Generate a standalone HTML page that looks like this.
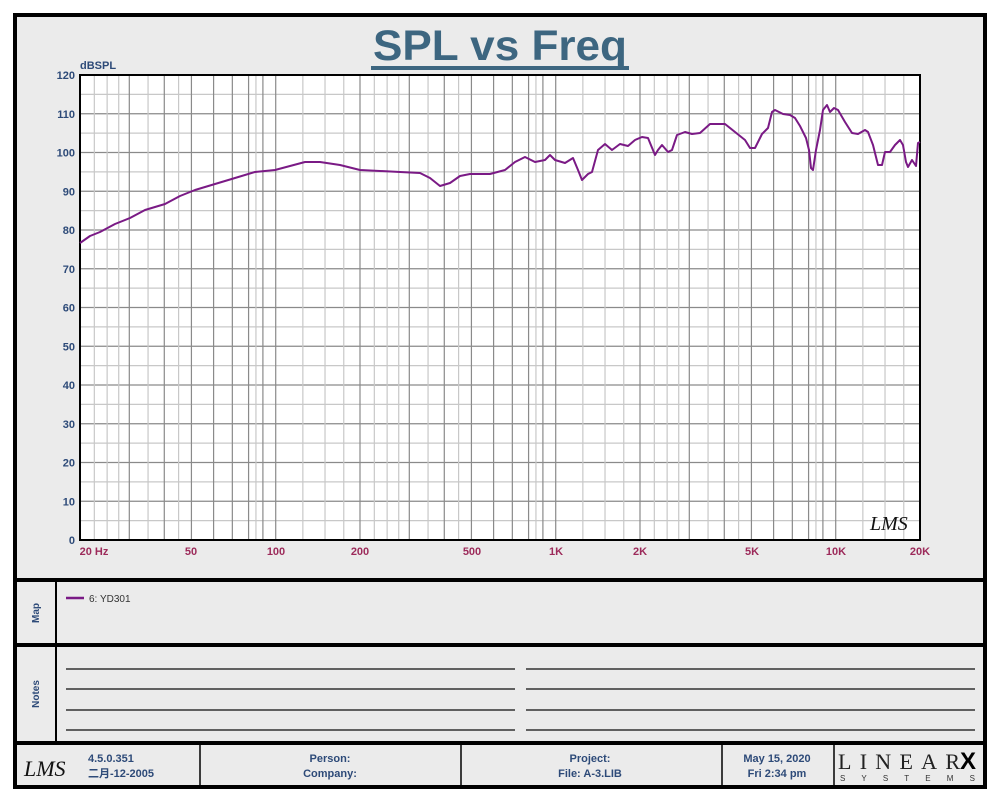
<!DOCTYPE html>
<html><head><meta charset="utf-8"><style>
body{margin:0;background:#fff;width:1000px;height:800px;overflow:hidden;font-family:"Liberation Sans",Arial,sans-serif}
</style></head><body>
<svg width="1000" height="800" viewBox="0 0 1000 800" xmlns="http://www.w3.org/2000/svg" font-family="Liberation Sans, Arial, sans-serif">
<rect x="15" y="15" width="970" height="772" fill="#ebebeb" stroke="#000" stroke-width="4"/>
<line x1="15" y1="580" x2="985" y2="580" stroke="#000" stroke-width="4"/>
<line x1="15" y1="645" x2="985" y2="645" stroke="#000" stroke-width="4"/>
<line x1="15" y1="743" x2="985" y2="743" stroke="#000" stroke-width="4"/>
<line x1="56" y1="580" x2="56" y2="743" stroke="#000" stroke-width="2"/>
<text x="500" y="60" text-anchor="middle" font-size="43" font-weight="bold" fill="#3d6680" textLength="254" lengthAdjust="spacingAndGlyphs">SPL vs Freq</text>
<rect x="371" y="66" width="258" height="4" fill="#3d6680"/>
<text x="80" y="69" font-size="11" font-weight="bold" fill="#2d4a78">dBSPL</text>
<rect x="80" y="75" width="840" height="465" fill="#fff"/>
<g id="grid"></g>
<rect x="80" y="75" width="840" height="465" fill="none" stroke="#000" stroke-width="2"/>
<g font-size="11" font-weight="bold" fill="#2d4a78" text-anchor="end" id="ylab"></g>
<g font-size="11" font-weight="bold" fill="#9c2a5a" text-anchor="middle">
<text x="94" y="555">20  Hz</text><text x="191" y="555">50</text><text x="276" y="555">100</text><text x="360" y="555">200</text><text x="472" y="555">500</text><text x="556" y="555">1K</text><text x="640" y="555">2K</text><text x="752" y="555">5K</text><text x="836" y="555">10K</text><text x="920" y="555">20K</text>
</g>
<text x="870" y="530" font-size="20" font-style="italic" font-family="Liberation Serif, serif" fill="#111">LMS</text>
<polyline fill="none" stroke="#7a1a85" stroke-width="2" stroke-linejoin="round" points="80,243 90,236 100,232 115,224 130,218 145,210 165,204 180,196 195,190 215,184 235,178 255,172 275,170 290,166 305,162 320,162 340,165 360,170 380,171 400,172 420,173 430,178 440,186 450,183 460,176 470,174 490,174 505,170 515,162 525,157 535,162 545,160 550,155 555,160 565,163 573,158 578,170 582,180 588,174 592,172 598,150 605,144 612,150 620,144 628,146 635,140 642,137 648,138 655,155 658,150 662,145 668,152 672,150 677,135 685,132 692,134 700,133 710,124 725,124 735,132 745,140 750,148 755,148 762,134 768,128 772,112 775,110 783,114 790,115 795,118 800,126 806,138 809,150 811,168 813,170 816,150 820,130 823,110 827,105 830,112 834,108 838,110 845,122 852,133 858,134 865,130 868,132 873,145 878,165 882,165 885,152 890,152 895,145 900,140 903,145 906,162 908,167 912,160 916,166 918,143 920,142"/>
<text transform="translate(39,613) rotate(-90)" text-anchor="middle" font-size="10" font-weight="bold" fill="#2d4a78">Map</text>
<text transform="translate(39,694) rotate(-90)" text-anchor="middle" font-size="10" font-weight="bold" fill="#2d4a78">Notes</text>
<line x1="66" y1="598" x2="84" y2="598" stroke="#7a1a85" stroke-width="2.5"/>
<text x="89" y="602" font-size="10" fill="#333">6: YD301</text>
<g stroke="#333" stroke-width="1.5">
<line x1="66" y1="669" x2="515" y2="669"/><line x1="526" y1="669" x2="975" y2="669"/>
<line x1="66" y1="689" x2="515" y2="689"/><line x1="526" y1="689" x2="975" y2="689"/>
<line x1="66" y1="710" x2="515" y2="710"/><line x1="526" y1="710" x2="975" y2="710"/>
<line x1="66" y1="730" x2="515" y2="730"/><line x1="526" y1="730" x2="975" y2="730"/>
</g>
<g stroke="#000" stroke-width="1.5">
<line x1="200" y1="743" x2="200" y2="787"/><line x1="461" y1="743" x2="461" y2="787"/><line x1="722" y1="743" x2="722" y2="787"/><line x1="834" y1="743" x2="834" y2="787"/>
</g>
<text x="24" y="776" font-size="22" font-style="italic" font-family="Liberation Serif, serif" fill="#111">LMS</text>
<g font-size="11" font-weight="bold" fill="#2d4a78">
<text x="88" y="762">4.5.0.351</text>
<text x="88" y="777" font-family="Liberation Sans, Noto Sans CJK SC, sans-serif">二月-12-2005</text>
<text x="330" y="762" text-anchor="middle">Person:</text><text x="330" y="777" text-anchor="middle">Company:</text>
<text x="590" y="762" text-anchor="middle">Project:</text><text x="590" y="777" text-anchor="middle">File: A-3.LIB</text>
<text x="777" y="762" text-anchor="middle">May 15, 2020</text><text x="777" y="777" text-anchor="middle">Fri  2:34 pm</text>
</g>
<text x="838" y="769" font-size="22" font-family="Liberation Serif, serif" fill="#222" textLength="122">LINEAR</text>
<text x="960" y="769" font-size="24" font-weight="bold" fill="#000">X</text>
<text x="840" y="781" font-size="8" fill="#333" textLength="135">S Y S T E M S</text>
</svg>
<script>
(function(){
var ns="http://www.w3.org/2000/svg",g=document.getElementById("grid"),yl=document.getElementById("ylab");
function L(x1,y1,x2,y2,c){var l=document.createElementNS(ns,"line");l.setAttribute("x1",x1);l.setAttribute("y1",y1);l.setAttribute("x2",x2);l.setAttribute("y2",y2);l.setAttribute("stroke",c);l.setAttribute("stroke-width","1.2");g.appendChild(l);}
for(var d=0;d<=120;d+=5){var y=540-d*3.875;L(80,y,920,y,d%10?"#c8c8c8":"#8a8a8a");
 if(d%10==0){var t=document.createElementNS(ns,"text");t.setAttribute("x",75);t.setAttribute("y",y+4);t.textContent=d;yl.appendChild(t);}}
var steps=[1,1.25,1.5,1.75,2,2.25,2.5,2.75,3,3.5,4,4.5,5,6,7,8,8.5,9];
[10,100,1000,10000].forEach(function(b){steps.forEach(function(s){var f=b*s;if(f<20||f>20000)return;
 var x=80+280*Math.log10(f/20);var major=(s==Math.round(s));L(x,75,x,540,major?"#8a8a8a":"#c8c8c8");});});
})();
</script>
</body></html>
